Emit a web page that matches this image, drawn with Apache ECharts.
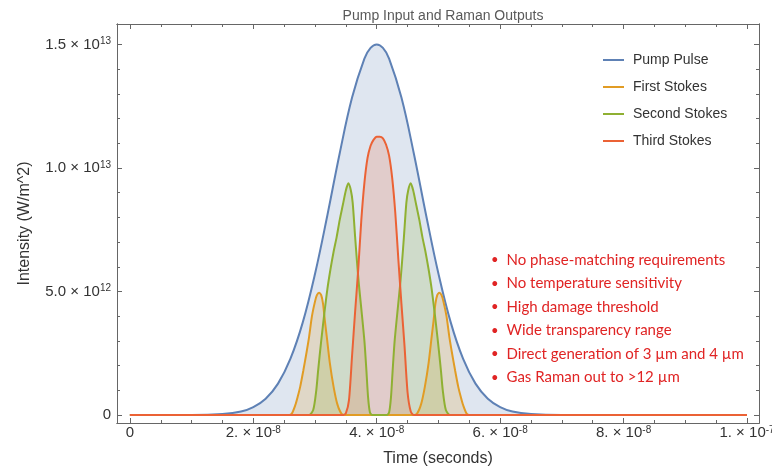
<!DOCTYPE html>
<html>
<head>
<meta charset="utf-8">
<title>Pump Input and Raman Outputs</title>
<script src="https://cdn.jsdelivr.net/npm/echarts@6/dist/echarts.min.js"></script>
<style>
  html, body { margin: 0; padding: 0; background: #fff; }
  #main { width: 772px; height: 471px; }
</style>
</head>
<body>
<div id="main"></div>
<script>
// time in units of 1e-8 s, intensity in units of 1e12 W/m^2
var pumpTime = [0, 1.0, 1.5, 1.8, 2.0, 2.2, 2.4, 2.6, 2.8, 3.0, 3.2, 3.4, 3.6, 3.8, 3.9, 4.0,
  4.1, 4.2, 4.4, 4.6, 4.8, 5.0, 5.2, 5.4, 5.6, 5.8, 6.0, 6.2, 6.5, 7.0, 10];
var pumpIntensity = [0, 0, 0.04, 0.14, 0.32, 0.66, 1.27, 2.27, 3.74, 5.72, 8.09, 10.6, 12.85, 14.43, 14.86, 15.0,
  14.86, 14.43, 12.85, 10.6, 8.09, 5.72, 3.74, 2.27, 1.27, 0.66, 0.32, 0.14, 0.04, 0, 0];

var firstTime = [0, 2.55, 2.62, 2.68, 2.72, 2.76, 2.81, 2.86, 2.90, 2.95, 3.00, 3.03, 3.065, 3.10, 3.13, 3.16,
  3.19, 3.24, 3.30, 3.36, 3.43, 3.50,
  4.58, 4.65, 4.72, 4.78, 4.84, 4.89, 4.92, 4.95, 4.98, 5.015, 5.05, 5.08, 5.13, 5.18, 5.22, 5.27,
  5.32, 5.36, 5.40, 5.46, 5.53, 10];
var firstIntensity = [0, 0, 0.05, 0.4, 0.75, 1.15, 1.8, 2.5, 3.1, 4.0, 4.6, 4.85, 4.95, 4.85, 4.5, 3.8,
  3.17, 2.1, 1.15, 0.45, 0.05, 0,
  0, 0.05, 0.45, 1.15, 2.1, 3.17, 3.8, 4.5, 4.85, 4.95, 4.85, 4.6, 4.0, 3.1, 2.5, 1.8,
  1.15, 0.75, 0.4, 0.05, 0, 0];

var secondTime = [0, 2.90, 2.97, 3.02, 3.05, 3.10, 3.15, 3.20, 3.25, 3.30, 3.35, 3.40, 3.45, 3.50, 3.54,
  3.58, 3.61, 3.65, 3.68, 3.71, 3.75, 3.80, 3.83, 3.86, 3.89, 3.93,
  4.16, 4.20, 4.23, 4.26, 4.29, 4.34, 4.38, 4.41, 4.44, 4.48, 4.51, 4.55,
  4.59, 4.64, 4.69, 4.74, 4.79, 4.84, 4.89, 4.94, 4.99, 5.04, 5.07, 5.12, 5.19, 10];
var secondIntensity = [0, 0, 0.2, 1.0, 1.8, 3.0, 4.1, 5.1, 5.9, 6.6, 7.2, 7.9, 8.5, 9.1, 9.38,
  9.1, 8.6, 7.2, 6.2, 5.3, 4.3, 3.0, 1.9, 0.7, 0.1, 0,
  0, 0.1, 0.7, 1.9, 3.0, 4.3, 5.3, 6.2, 7.2, 8.6, 9.1, 9.38,
  9.1, 8.5, 7.9, 7.2, 6.6, 5.9, 5.1, 4.1, 3.0, 1.8, 1.0, 0.2, 0, 0];

var thirdTime = [0, 3.45, 3.50, 3.55, 3.60, 3.65, 3.70, 3.75, 3.80, 3.85, 3.90, 3.95, 4.00,
  4.05, 4.10, 4.15, 4.20, 4.25, 4.30, 4.35, 4.40, 4.45, 4.50, 4.55, 4.60, 10];
var thirdIntensity = [0, 0, 0.08, 0.6, 2.4, 4.2, 5.9, 7.9, 9.4, 10.4, 10.9, 11.15, 11.27,
  11.27, 11.2, 10.95, 10.5, 9.6, 8.2, 6.3, 4.5, 2.8, 0.9, 0.15, 0, 0];

var seriesNames = ['Pump Pulse', 'First Stokes', 'Second Stokes', 'Third Stokes'];
var seriesColors = ['#5E81B5', '#E19C24', '#8FB032', '#EB6235'];

// tick labels
var xTickValues = [0, 2, 4, 6, 8, 10];
var xTickMant = ['0', '2.', '4.', '6.', '8.', '1.'];
var xTickExp = ['', '-8', '-8', '-8', '-8', '-7'];
var xMinorTicks = [0.5, 1, 1.5, 2.5, 3, 3.5, 4.5, 5, 5.5, 6.5, 7, 7.5, 8.5, 9, 9.5];

var yTickValues = [0, 5, 10, 15];
var yTickMant = ['0', '5.0', '1.0', '1.5'];
var yTickExp = ['', '12', '13', '13'];
var yMinorTicks = [1, 2, 3, 4, 6, 7, 8, 9, 11, 12, 13, 14];

var bulletLines = [
  'No phase-matching requirements',
  'No temperature sensitivity',
  'High damage threshold',
  'Wide transparency range',
  'Direct generation of 3 µm and 4 µm',
  'Gas Raman out to >12 µm'
];

var X_MIN = -0.209, X_MAX = 10.194;
var Y_MIN = -0.324, Y_MAX = 15.83;
var AXIS_COLOR = '#666';
var FONT = 'Liberation Sans, Arial, sans-serif';

var chart = echarts.init(document.getElementById('main'));

function pairs(t, v) {
  var out = [];
  for (var i = 0; i < t.length; i++) {
    out.push([t[i], v[i]]);
  }
  return out;
}

function tickFormatter(values, mant, exps) {
  return function (v) {
    for (var i = 0; i < values.length; i++) {
      if (Math.abs(values[i] - v) < 1e-6) {
        if (exps[i]) {
          return '{m|' + mant[i] + ' × 10}{e|' + exps[i] + '}';
        }
        return '{m|' + mant[i] + '}';
      }
    }
    return '';
  };
}

var labelRich = {
  m: { fontSize: 15, fontFamily: FONT, color: '#333', lineHeight: 16 },
  e: { fontSize: 10, fontFamily: FONT, color: '#333', lineHeight: 8, verticalAlign: 'top' }
};

// one axis: major ticks or minor ticks, on one side of the frame
function makeAxis(pos, min, max, ticks, len, labels, extra) {
  var axis = {
    type: 'value',
    position: pos,
    min: min,
    max: max,
    splitLine: { show: false },
    axisLine: { show: true, onZero: false, lineStyle: { color: AXIS_COLOR, width: 1 } },
    axisTick: { show: true, inside: true, length: len, customValues: ticks, lineStyle: { color: AXIS_COLOR } },
    axisLabel: { show: false }
  };
  if (labels) {
    axis.axisLabel = labels;
  }
  if (extra) {
    for (var k in extra) axis[k] = extra[k];
  }
  return axis;
}

var xAxes = [
  makeAxis('bottom', X_MIN, X_MAX, xTickValues, 5, {
    show: true, customValues: xTickValues, margin: 2,
    formatter: tickFormatter(xTickValues, xTickMant, xTickExp), rich: labelRich
  }, {
    name: 'Time (seconds)', nameLocation: 'middle', nameGap: 28,
    nameTextStyle: { fontSize: 16, fontFamily: FONT, color: '#333' }
  }),
  makeAxis('bottom', X_MIN, X_MAX, xMinorTicks, 3),
  makeAxis('top', X_MIN, X_MAX, xTickValues, 5),
  makeAxis('top', X_MIN, X_MAX, xMinorTicks, 3)
];

var yAxes = [
  makeAxis('left', Y_MIN, Y_MAX, yTickValues, 5, {
    show: true, customValues: yTickValues, margin: 6,
    formatter: tickFormatter(yTickValues, yTickMant, yTickExp), rich: labelRich
  }, {
    name: 'Intensity (W/m^2)', nameLocation: 'middle', nameGap: 84, nameRotate: 90,
    nameTextStyle: { fontSize: 16, fontFamily: FONT, color: '#333' }
  }),
  makeAxis('left', Y_MIN, Y_MAX, yMinorTicks, 3),
  makeAxis('right', Y_MIN, Y_MAX, yTickValues, 5),
  makeAxis('right', Y_MIN, Y_MAX, yMinorTicks, 3)
];

var seriesTimes = [pumpTime, firstTime, secondTime, thirdTime];
var seriesValues = [pumpIntensity, firstIntensity, secondIntensity, thirdIntensity];
var series = [];
for (var i = 0; i < seriesNames.length; i++) {
  series.push({
    name: seriesNames[i],
    type: 'line',
    xAxisIndex: 0,
    yAxisIndex: 0,
    data: pairs(seriesTimes[i], seriesValues[i]),
    smooth: i === 0 ? 0.4 : 0.25,
    symbol: 'none',
    lineStyle: { width: 2, color: seriesColors[i] },
    itemStyle: { color: seriesColors[i] },
    areaStyle: { color: seriesColors[i], opacity: 0.2 }
  });
}

// red bullet notes
var graphics = [];
for (var j = 0; j < bulletLines.length; j++) {
  var yy = 260 + j * 23.5;
  graphics.push({
    type: 'text', x: 491, y: yy,
    style: { text: '•', fill: '#e02424', font: '13px Lato', verticalAlign: 'middle' }
  });
  graphics.push({
    type: 'text', x: 506.5, y: yy,
    style: { text: bulletLines[j], fill: '#e02424', font: '15px Lato', verticalAlign: 'middle' }
  });
}

var option = {
  animation: false,
  backgroundColor: '#fff',
  title: {
    text: 'Pump Input and Raman Outputs',
    left: 438,
    top: 4,
    textAlign: 'center',
    textStyle: { fontSize: 14, fontWeight: 'normal', fontFamily: FONT, color: '#595959' }
  },
  legend: {
    orient: 'vertical',
    left: 598,
    top: 47,
    icon: 'rect',
    itemWidth: 21,
    itemHeight: 2,
    itemGap: 11,
    data: seriesNames,
    textStyle: { fontSize: 14, fontFamily: FONT, color: '#333', lineHeight: 16, padding: [0, 0, 0, 4] }
  },
  // keep the frame where it is even though the last x label runs off the edge
  grid: { left: 117, right: 13, top: 24, bottom: 48, containLabel: false, outerBoundsMode: 'none' },
  xAxis: xAxes,
  yAxis: yAxes,
  series: series,
  graphic: graphics
};

chart.setOption(option);
</script>
</body>
</html>
